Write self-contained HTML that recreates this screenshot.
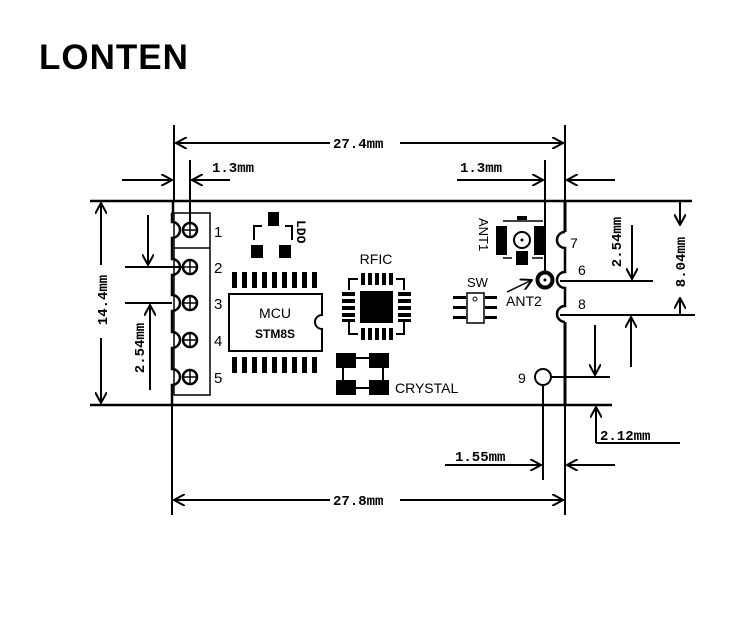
<!DOCTYPE html>
<html><head><meta charset="utf-8"><style>
html,body{margin:0;padding:0;background:#fff;}
svg{display:block;}
text{font-family:"Liberation Mono","DejaVu Sans Mono",monospace;font-weight:bold;fill:#000;}
</style></head><body>
<svg width="750" height="640" viewBox="0 0 750 640" xmlns="http://www.w3.org/2000/svg">
<defs>
<marker id="a" viewBox="0 0 12 12" refX="11" refY="6" markerWidth="12" markerHeight="12" markerUnits="userSpaceOnUse" orient="auto"><path d="M0,0 L11,6 L0,12" fill="none" stroke="#000" stroke-width="2"/></marker>
</defs>
<text x="39" y="69" style="font-family:'Liberation Sans',sans-serif;font-size:35px;font-weight:bold;letter-spacing:1px">LONTEN</text>
<g stroke="#000" stroke-width="2.5" fill="none">
<line x1="90" y1="201" x2="692" y2="201"/>
<line x1="90" y1="405" x2="612" y2="405"/>
<line x1="174" y1="125" x2="174" y2="201" stroke-width="2"/>
<line x1="172" y1="405" x2="172" y2="515" stroke-width="2"/>
<line x1="565" y1="125" x2="565" y2="201" stroke-width="2"/>
<line x1="565" y1="405" x2="565" y2="515" stroke-width="2"/>
<path d="M565,201 V232" stroke-width="3"/>
<path d="M565,322 V405" stroke-width="3"/>
<path d="M173,201 V212 L172,214 V222 a8,8 0 0 1 0,16 l0,21 a8,8 0 0 1 0,16 l0,20 a8,8 0 0 1 0,16 l0,21 a8,8 0 0 1 0,16 l0,21 a8,8 0 0 1 0,16 l0,10 V405" stroke-width="2.5"/>
<path d="M565,232 a6,6 0 0 0 0,16 l0,24 a6,6 0 0 0 0,16 l0,18 a6,6 0 0 0 0,16" />
<rect x="174" y="213" width="36" height="182" stroke-width="1.5"/>
<line x1="174" y1="248" x2="210" y2="248" stroke-width="1.5"/>
</g>
<g stroke="#000" stroke-width="2.5" fill="#fff">
<circle cx="190" cy="230" r="7"/><circle cx="190" cy="267" r="7"/><circle cx="190" cy="303" r="7"/><circle cx="190" cy="340" r="7"/><circle cx="190" cy="377" r="7"/>
</g>
<g stroke="#000" stroke-width="1.5">
<path d="M183,230h14M190,223v14M183,267h14M190,260v14M183,303h14M190,296v14M183,340h14M190,333v14M183,377h14M190,370v14"/>
</g>
<g font-size="15">
<text x="214" y="237" style="font-family:'Liberation Sans',sans-serif;font-weight:normal">1</text>
<text x="214" y="273" style="font-family:'Liberation Sans',sans-serif;font-weight:normal">2</text>
<text x="214" y="309" style="font-family:'Liberation Sans',sans-serif;font-weight:normal">3</text>
<text x="214" y="346" style="font-family:'Liberation Sans',sans-serif;font-weight:normal">4</text>
<text x="214" y="383" style="font-family:'Liberation Sans',sans-serif;font-weight:normal">5</text>
</g>
<g stroke="#000" stroke-width="2" fill="none">
<line x1="330" y1="143" x2="176" y2="143" marker-end="url(#a)"/>
<line x1="400" y1="143" x2="563" y2="143" marker-end="url(#a)"/>
<line x1="122" y1="180" x2="172" y2="180" marker-end="url(#a)"/>
<line x1="230" y1="180" x2="192" y2="180" marker-end="url(#a)"/>
<line x1="190" y1="160" x2="190" y2="223"/>
<line x1="457" y1="180" x2="543" y2="180" marker-end="url(#a)"/>
<line x1="615" y1="180" x2="567" y2="180" marker-end="url(#a)"/>
<line x1="545" y1="160" x2="545" y2="273"/>
<line x1="101" y1="265" x2="101" y2="203" marker-end="url(#a)"/>
<line x1="101" y1="338" x2="101" y2="403" marker-end="url(#a)"/>
<line x1="125" y1="267" x2="183" y2="267"/>
<line x1="125" y1="303" x2="172" y2="303"/>
<line x1="148" y1="215" x2="148" y2="265" marker-end="url(#a)"/>
<line x1="150" y1="390" x2="150" y2="305" marker-end="url(#a)"/>
<line x1="330" y1="500" x2="174" y2="500" marker-end="url(#a)"/>
<line x1="400" y1="500" x2="563" y2="500" marker-end="url(#a)"/>
<line x1="543" y1="384" x2="543" y2="480"/>
<line x1="445" y1="465" x2="541" y2="465" marker-end="url(#a)"/>
<line x1="615" y1="465" x2="567" y2="465" marker-end="url(#a)"/>
<line x1="560" y1="281" x2="653" y2="281"/>
<line x1="560" y1="315" x2="695" y2="315"/>
<line x1="550" y1="377" x2="610" y2="377"/>
<line x1="632" y1="225" x2="632" y2="279" marker-end="url(#a)"/>
<line x1="680" y1="201" x2="680" y2="225" marker-end="url(#a)"/>
<line x1="680" y1="315" x2="680" y2="298" marker-end="url(#a)"/>
<line x1="631" y1="367" x2="631" y2="317" marker-end="url(#a)"/>
<line x1="595" y1="325" x2="595" y2="375" marker-end="url(#a)"/>
<line x1="596" y1="443" x2="596" y2="407" marker-end="url(#a)"/>
<line x1="596" y1="443" x2="680" y2="443"/>
</g>
<text x="333" y="148" font-size="14">27.4mm</text>
<text x="333" y="505" font-size="14">27.8mm</text>
<text x="212" y="172" font-size="14">1.3mm</text>
<text x="460" y="172" font-size="14">1.3mm</text>
<text x="455" y="461" font-size="14">1.55mm</text>
<text x="600" y="440" font-size="14">2.12mm</text>
<text transform="translate(107,300) rotate(-90)" text-anchor="middle" font-size="14">14.4mm</text>
<text transform="translate(144,348) rotate(-90)" text-anchor="middle" font-size="14">2.54mm</text>
<text transform="translate(621,242) rotate(-90)" text-anchor="middle" font-size="14">2.54mm</text>
<text transform="translate(685,262) rotate(-90)" text-anchor="middle" font-size="14">8.04mm</text>
<g fill="#000">
<rect x="268" y="212" width="11" height="14"/>
<rect x="251" y="245" width="12" height="13"/>
<rect x="279" y="245" width="12" height="13"/>
</g>
<path d="M254,240 V226 H262 M285,226 H292 V240" stroke="#000" stroke-width="2" fill="none"/>
<text transform="translate(297,220) rotate(90)" font-size="13">LDO</text>
<g fill="#000">
<rect x="232" y="272" width="5" height="16"/><rect x="242" y="272" width="5" height="16"/><rect x="252" y="272" width="5" height="16"/><rect x="262" y="272" width="5" height="16"/><rect x="272" y="272" width="5" height="16"/><rect x="282" y="272" width="5" height="16"/><rect x="292" y="272" width="5" height="16"/><rect x="302" y="272" width="5" height="16"/><rect x="312" y="272" width="5" height="16"/>
<rect x="232" y="357" width="5" height="16"/><rect x="242" y="357" width="5" height="16"/><rect x="252" y="357" width="5" height="16"/><rect x="262" y="357" width="5" height="16"/><rect x="272" y="357" width="5" height="16"/><rect x="282" y="357" width="5" height="16"/><rect x="292" y="357" width="5" height="16"/><rect x="302" y="357" width="5" height="16"/><rect x="312" y="357" width="5" height="16"/>
</g>
<path d="M229,294 H322 V315 a7,7 0 0 0 0,14 V351 H229 Z" stroke="#000" stroke-width="2" fill="none"/>
<text x="275" y="318" text-anchor="middle" font-size="14" style="font-family:'Liberation Sans',sans-serif;font-weight:normal">MCU</text>
<text x="275" y="338" text-anchor="middle" font-size="12" style="font-family:'Liberation Sans',sans-serif;font-weight:bold">STM8S</text>
<text x="376" y="264" text-anchor="middle" font-size="14" style="font-family:'Liberation Sans',sans-serif;font-weight:normal">RFIC</text>
<path d="M349,290 V279 H358 M396,279 H404 V290 M349,322 V334 H358 M396,334 H404 V322" stroke="#000" stroke-width="2" fill="none"/>
<g fill="#000">
<rect x="360" y="291" width="33" height="32"/>
<rect x="361" y="273" width="4" height="12"/><rect x="368" y="273" width="4" height="12"/><rect x="375" y="273" width="4" height="12"/><rect x="382" y="273" width="4" height="12"/><rect x="389" y="273" width="4" height="12"/>
<rect x="361" y="328" width="4" height="12"/><rect x="368" y="328" width="4" height="12"/><rect x="375" y="328" width="4" height="12"/><rect x="382" y="328" width="4" height="12"/><rect x="389" y="328" width="4" height="12"/>
<rect x="342" y="292" width="13" height="4"/><rect x="342" y="299" width="13" height="4"/><rect x="342" y="306" width="13" height="4"/><rect x="342" y="313" width="13" height="4"/><rect x="342" y="319" width="13" height="3"/>
<rect x="398" y="292" width="13" height="4"/><rect x="398" y="299" width="13" height="4"/><rect x="398" y="306" width="13" height="4"/><rect x="398" y="313" width="13" height="4"/><rect x="398" y="319" width="13" height="3"/>
</g>
<rect x="343" y="358" width="40" height="30" stroke="#000" stroke-width="2" fill="none"/>
<g fill="#000">
<rect x="336" y="353" width="20" height="15"/><rect x="369" y="353" width="20" height="15"/>
<rect x="336" y="380" width="20" height="15"/><rect x="369" y="380" width="20" height="15"/>
</g>
<text x="395" y="393" font-size="14" style="font-family:'Liberation Sans',sans-serif;font-weight:normal">CRYSTAL</text>
<g fill="#000">
<rect x="496" y="226" width="11" height="29"/><rect x="534" y="226" width="12" height="29"/>
<rect x="516" y="251" width="12" height="14"/>
<rect x="517" y="216" width="10" height="4"/>
</g>
<path d="M503,221 H543 M503,258 H512 M532,258 H543" stroke="#000" stroke-width="1.5" fill="none"/>
<circle cx="522" cy="240" r="8" stroke="#000" stroke-width="2" fill="none"/>
<circle cx="522" cy="240" r="1.5" fill="#000"/>
<text transform="translate(479,218) rotate(90)" font-size="13" style="font-family:'Liberation Sans',sans-serif;font-weight:normal">ANT1</text>
<circle cx="545" cy="280" r="7.5" stroke="#000" stroke-width="4" fill="#fff"/>
<circle cx="545" cy="280" r="1.5" fill="#000"/>
<line x1="507" y1="292" x2="532" y2="280" stroke="#000" stroke-width="1.5" marker-end="url(#a)"/>
<text x="506" y="306" font-size="14" style="font-family:'Liberation Sans',sans-serif;font-weight:normal">ANT2</text>
<text x="570" y="248" font-size="14" style="font-family:'Liberation Sans',sans-serif;font-weight:normal">7</text>
<text x="578" y="275" font-size="14" style="font-family:'Liberation Sans',sans-serif;font-weight:normal">6</text>
<text x="578" y="309" font-size="14" style="font-family:'Liberation Sans',sans-serif;font-weight:normal">8</text>
<text x="518" y="383" font-size="14" style="font-family:'Liberation Sans',sans-serif;font-weight:normal">9</text>
<circle cx="543" cy="377" r="8" stroke="#000" stroke-width="2" fill="#fff"/>
<text x="467" y="287" font-size="13" style="font-family:'Liberation Sans',sans-serif;font-weight:normal">SW</text>
<rect x="467" y="293" width="17" height="30" stroke="#000" stroke-width="1.5" fill="none"/>
<circle cx="475" cy="299" r="2" stroke="#000" stroke-width="1" fill="none"/>
<g fill="#000">
<rect x="453" y="296" width="13" height="3"/><rect x="453" y="306" width="13" height="3"/><rect x="453" y="316" width="13" height="3"/>
<rect x="485" y="296" width="12" height="3"/><rect x="485" y="306" width="12" height="3"/><rect x="485" y="316" width="12" height="3"/>
</g>
</svg>
</body></html>
